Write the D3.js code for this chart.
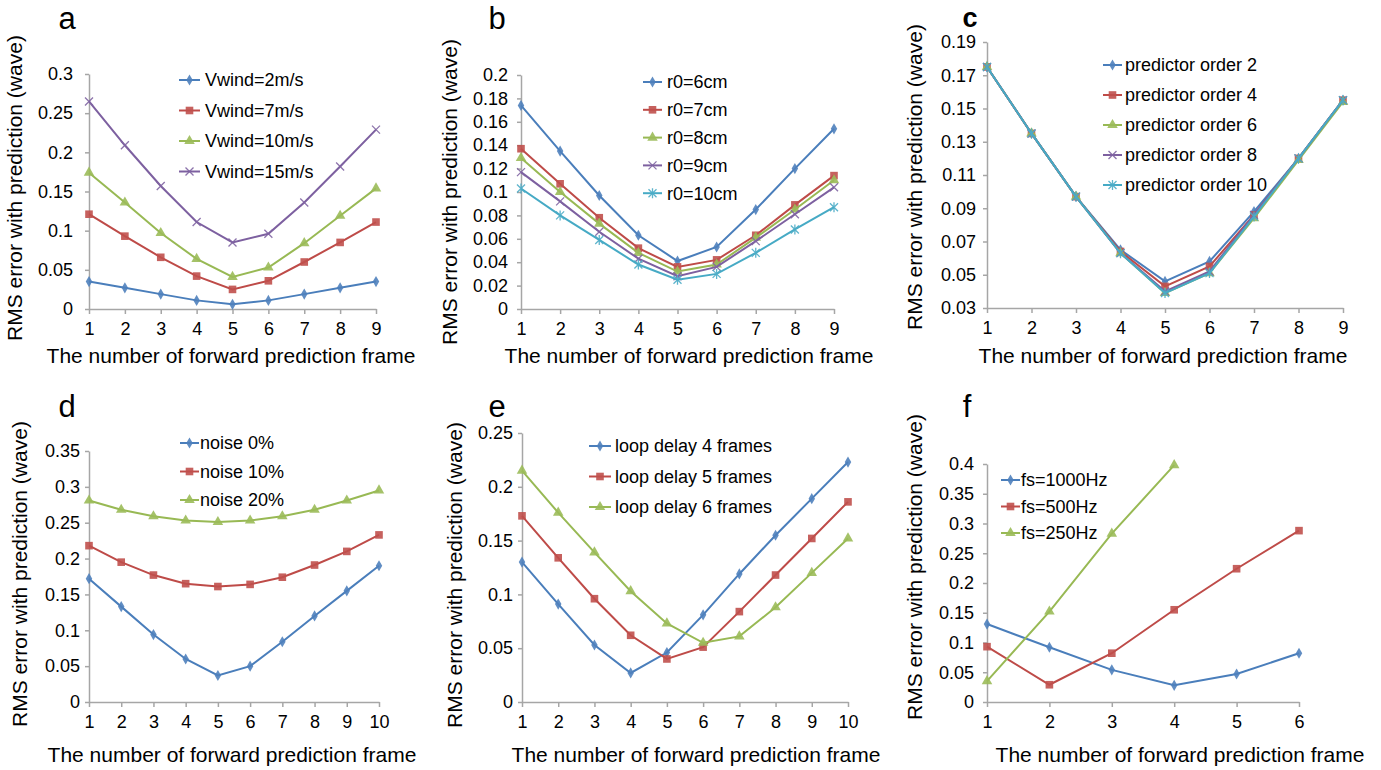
<!DOCTYPE html>
<html>
<head>
<meta charset="utf-8">
<script src="https://cdn.jsdelivr.net/npm/d3@7"></script>
<style>
  body { margin: 0; background: #fff; }
  svg { display: block; font-family: "Liberation Sans", Arial, Helvetica, sans-serif; }
</style>
</head>
<body>
<svg id="chart" width="1381" height="770"></svg>
<script>
// x categories (forward prediction frames)
const frames9 = [1, 2, 3, 4, 5, 6, 7, 8, 9];
const frames10 = [1, 2, 3, 4, 5, 6, 7, 8, 9, 10];
const frames6 = [1, 2, 3, 4, 5, 6];

// panel a - wind speed
const windNames = ["Vwind=2m/s", "Vwind=7m/s", "Vwind=10m/s", "Vwind=15m/s"];
const wind2 = [0.035, 0.027, 0.019, 0.011, 0.006, 0.011, 0.019, 0.027, 0.035];
const wind7 = [0.121, 0.093, 0.066, 0.042, 0.025, 0.036, 0.060, 0.085, 0.111];
const wind10 = [0.174, 0.136, 0.097, 0.064, 0.041, 0.053, 0.084, 0.119, 0.154];
const wind15 = [0.265, 0.209, 0.157, 0.111, 0.085, 0.096, 0.136, 0.182, 0.229];
const ticksA = [0, 0.05, 0.1, 0.15, 0.2, 0.25, 0.3];

// panel b - r0
const r0Names = ["r0=6cm", "r0=7cm", "r0=8cm", "r0=9cm", "r0=10cm"];
const r06 = [0.174, 0.135, 0.097, 0.063, 0.041, 0.053, 0.085, 0.120, 0.154];
const r07 = [0.137, 0.107, 0.078, 0.052, 0.036, 0.042, 0.063, 0.089, 0.114];
const r08 = [0.129, 0.100, 0.073, 0.048, 0.032, 0.038, 0.061, 0.085, 0.110];
const r09 = [0.117, 0.092, 0.066, 0.043, 0.028, 0.036, 0.058, 0.081, 0.104];
const r010 = [0.103, 0.080, 0.059, 0.038, 0.025, 0.030, 0.048, 0.068, 0.087];
const ticksB = [0, 0.02, 0.04, 0.06, 0.08, 0.1, 0.12, 0.14, 0.16, 0.18, 0.2];

// panel c - predictor order
const orderNames = ["predictor order 2", "predictor order 4", "predictor order 6", "predictor order 8", "predictor order 10"];
const order2 = [0.175, 0.135, 0.097, 0.065, 0.046, 0.058, 0.088, 0.120, 0.155];
const order4 = [0.175, 0.135, 0.097, 0.064, 0.043, 0.055, 0.086, 0.120, 0.155];
const order6 = [0.175, 0.135, 0.097, 0.063, 0.039, 0.051, 0.084, 0.119, 0.154];
const order8 = [0.175, 0.135, 0.097, 0.063, 0.040, 0.052, 0.086, 0.120, 0.155];
const order10 = [0.175, 0.135, 0.097, 0.063, 0.039, 0.051, 0.085, 0.120, 0.155];
const ticksC = [0.03, 0.05, 0.07, 0.09, 0.11, 0.13, 0.15, 0.17, 0.19];

// panel d - noise
const noiseNames = ["noise 0%", "noise 10%", "noise 20%"];
const noise0 = [0.172, 0.133, 0.094, 0.060, 0.037, 0.050, 0.084, 0.120, 0.155, 0.190];
const noise10 = [0.218, 0.195, 0.177, 0.165, 0.161, 0.164, 0.174, 0.191, 0.210, 0.233];
const noise20 = [0.281, 0.268, 0.259, 0.253, 0.251, 0.253, 0.259, 0.268, 0.281, 0.295];
const ticksD = [0, 0.05, 0.1, 0.15, 0.2, 0.25, 0.3, 0.35];

// panel e - loop delay
const delayNames = ["loop delay 4 frames", "loop delay 5 frames", "loop delay 6 frames"];
const delay4 = [0.130, 0.091, 0.053, 0.027, 0.046, 0.081, 0.119, 0.155, 0.189, 0.223];
const delay5 = [0.173, 0.134, 0.096, 0.062, 0.040, 0.051, 0.084, 0.118, 0.152, 0.186];
const delay6 = [0.215, 0.176, 0.139, 0.103, 0.073, 0.055, 0.061, 0.088, 0.120, 0.152];
const ticksE = [0, 0.05, 0.1, 0.15, 0.2, 0.25];

// panel f - sampling frequency
const fsNames = ["fs=1000Hz", "fs=500Hz", "fs=250Hz"];
const fs1000 = [0.131, 0.092, 0.054, 0.028, 0.047, 0.082];
const fs500 = [0.093, 0.029, 0.082, 0.155, 0.224, 0.288];
const fs250 = [0.035, 0.152, 0.283, 0.398];
const ticksF = [0, 0.05, 0.1, 0.15, 0.2, 0.25, 0.3, 0.35, 0.4];

const xTitle = "The number of forward prediction frame";
const yTitle = "RMS error with prediction (wave)";

// Excel 2007 style series look
const seriesStyle = [
    { line: "#4A7EBB", fill: "#4F81BD", marker: "diamond" },
    { line: "#BE4B48", fill: "#C0504D", marker: "square" },
    { line: "#98B954", fill: "#9BBB59", marker: "triangle" },
    { line: "#7D60A0", fill: "#8064A2", marker: "x" },
    { line: "#46AAC5", fill: "#4BACC6", marker: "star" }
];

// layout of each panel (pixels)
const panels = [
    { letter: "a", frames: frames9, names: windNames, series: [wind2, wind7, wind10, wind15], ticks: ticksA,
      x0: 89, x1: 376, yTop: 74, yBot: 309, gap: 12, letterPos: [67, 29], yTitlePos: [22, 188], xTitlePos: [231, 363],
      legend: { x: 179, len: 21, tx: 205, y: 80, dy: 30.5 } },
    { letter: "b", frames: frames9, names: r0Names, series: [r06, r07, r08, r09, r010], ticks: ticksB,
      x0: 521, x1: 834, yTop: 75, yBot: 309, gap: 9, letterPos: [497, 29], yTitlePos: [457, 192], xTitlePos: [689, 363],
      legend: { x: 643, len: 19, tx: 667, y: 82, dy: 27.8 } },
    { letter: "c", bold: true, frames: frames9, names: orderNames, series: [order2, order4, order6, order8, order10], ticks: ticksC,
      x0: 987, x1: 1343, yTop: 42, yBot: 308, gap: 7, letterPos: [970, 27], yTitlePos: [922, 177], xTitlePos: [1163, 363],
      legend: { x: 1103, len: 19, tx: 1125, y: 65, dy: 30 } },
    { letter: "d", frames: frames10, names: noiseNames, series: [noise0, noise10, noise20], ticks: ticksD,
      x0: 89, x1: 379, yTop: 451, yBot: 702, gap: 5, letterPos: [67, 417], yTitlePos: [27, 574], xTitlePos: [232, 762],
      legend: { x: 180, len: 19, tx: 200, y: 443, dy: 28.5 } },
    { letter: "e", frames: frames10, names: delayNames, series: [delay4, delay5, delay6], ticks: ticksE,
      x0: 522, x1: 848, yTop: 433, yBot: 702, gap: 5, letterPos: [497, 417], yTitlePos: [462, 575], xTitlePos: [696, 762],
      legend: { x: 589, len: 22, tx: 615, y: 446, dy: 30.5 } },
    { letter: "f", frames: frames6, names: fsNames, series: [fs1000, fs500, fs250], ticks: ticksF,
      x0: 987, x1: 1299, yTop: 464, yBot: 702, gap: 9, letterPos: [967, 417], yTitlePos: [922, 567], xTitlePos: [1180, 762],
      legend: { x: 1001, len: 19, tx: 1021, y: 480, dy: 26.5 } }
];

const axisColor = "#a6a6a6";
const svg = d3.select("#chart");

// marker paths centered on 0,0
function markerPath(type) {
    if (type === "diamond") return d3.symbol().type(d3.symbolDiamond).size(36)();
    if (type === "square") return d3.symbol().type(d3.symbolSquare).size(58)();
    if (type === "triangle") return d3.symbol().type(d3.symbolTriangle).size(48)();
    if (type === "x") return "M-4,-4L4,4M-4,4L4,-4";
    return "M-4,-4L4,4M-4,4L4,-4M0,-5L0,5";
}

function drawMarker(g, x, y, style) {
    const stroked = style.marker === "x" || style.marker === "star";
    g.append("path")
        .attr("transform", `translate(${x},${y})`)
        .attr("d", markerPath(style.marker))
        .attr("fill", stroked ? "none" : style.fill)
        .attr("stroke", stroked ? style.fill : "none")
        .attr("stroke-width", stroked ? 1.3 : 0)
        .attr("opacity", 0.9);
}

function tickFormat(d) {
    return d === 0 ? "0" : String(+d.toFixed(3));
}

function drawPanel(p) {
    const g = svg.append("g").attr("class", "panel-" + p.letter);

    const x = d3.scaleLinear()
        .domain([p.frames[0], p.frames[p.frames.length - 1]])
        .range([p.x0, p.x1]);
    const y = d3.scaleLinear()
        .domain([p.ticks[0], p.ticks[p.ticks.length - 1]])
        .range([p.yBot, p.yTop]);

    // axes
    const yAxis = g.append("g")
        .attr("transform", `translate(${p.x0},0)`)
        .call(d3.axisLeft(y).tickValues(p.ticks).tickFormat(tickFormat).tickSize(4).tickSizeOuter(0).tickPadding(p.gap));
    const xAxis = g.append("g")
        .attr("transform", `translate(0,${p.yBot})`)
        .call(d3.axisBottom(x).tickValues(p.frames).tickFormat(d3.format("d")).tickSize(5).tickSizeOuter(0).tickPadding(8));

    [yAxis, xAxis].forEach(ax => {
        ax.select(".domain").attr("stroke", axisColor).attr("stroke-width", 1.5);
        ax.selectAll(".tick line").attr("stroke", axisColor).attr("stroke-width", 1.5);
        ax.selectAll(".tick text")
            .attr("fill", "#000")
            .style("font-size", "18px")
            .style("font-family", "'Liberation Sans', Arial, Helvetica, sans-serif");
    });

    // series lines and markers
    const line = d3.line()
        .x((d, i) => x(p.frames[i]))
        .y(d => y(d));

    p.series.forEach((values, si) => {
        const st = seriesStyle[si];
        g.append("path")
            .datum(values)
            .attr("d", line)
            .attr("fill", "none")
            .attr("stroke", st.line)
            .attr("stroke-width", 2);
        values.forEach((v, i) => drawMarker(g, x(p.frames[i]), y(v), st));
    });

    // legend
    p.names.forEach((name, si) => {
        const st = seriesStyle[si];
        const ly = p.legend.y + si * p.legend.dy;
        g.append("line")
            .attr("x1", p.legend.x).attr("x2", p.legend.x + p.legend.len)
            .attr("y1", ly).attr("y2", ly)
            .attr("stroke", st.line).attr("stroke-width", 2);
        drawMarker(g, p.legend.x + p.legend.len / 2, ly, st);
        g.append("text")
            .attr("x", p.legend.tx).attr("y", ly)
            .attr("dy", "0.36em")
            .style("font-size", "18px")
            .text(name);
    });

    // titles
    g.append("text")
        .attr("x", p.xTitlePos[0]).attr("y", p.xTitlePos[1])
        .attr("text-anchor", "middle")
        .style("font-size", "21px")
        .text(xTitle);
    g.append("text")
        .attr("transform", `translate(${p.yTitlePos[0]},${p.yTitlePos[1]}) rotate(-90)`)
        .attr("text-anchor", "middle")
        .style("font-size", "21px")
        .text(yTitle);

    // panel letter
    g.append("text")
        .attr("x", p.letterPos[0]).attr("y", p.letterPos[1])
        .attr("text-anchor", "middle")
        .style("font-size", p.bold ? "27px" : "31px")
        .style("font-weight", p.bold ? "bold" : "normal")
        .text(p.letter);
}

panels.forEach(drawPanel);
</script>
</body>
</html>
